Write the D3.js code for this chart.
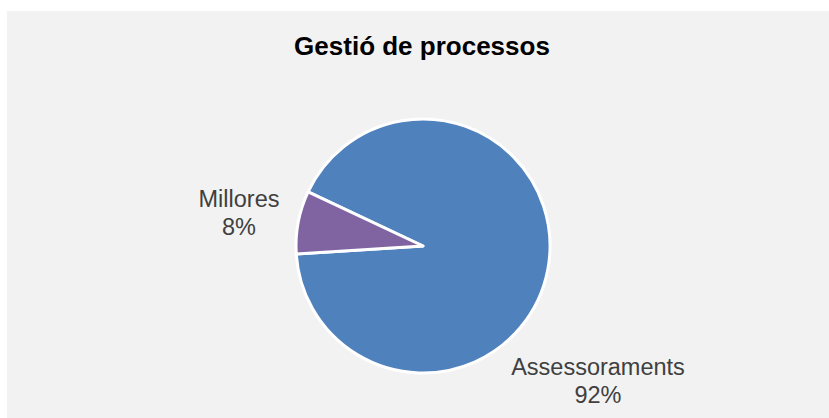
<!DOCTYPE html>
<html>
<head>
<meta charset="utf-8">
<script src="https://cdn.jsdelivr.net/npm/d3@7"></script>
<style>
body { margin: 0; background: #fff; }
text { font-family: "Liberation Sans", Arial, sans-serif; }
</style>
</head>
<body>
<script>
var width = 829,
    height = 418;

var categories = ["Assessoraments", "Millores"];
var values = [92, 8];
var colors = ["#4f81bd", "#8064a2"];
var labels = ["92%", "8%"];

var svg = d3.select("body").append("svg").attr("width", width).attr("height", height);

svg.append("rect") // chart area
    .attr("x", 7).attr("y", 11)
    .attr("width", width - 7).attr("height", height - 11)
    .attr("fill", "#f2f2f2");

svg.append("text")
    .attr("x", 422).attr("y", 55)
    .attr("text-anchor", "middle")
    .style("font-size", "26px").style("font-weight", "bold")
    .attr("fill", "#000")
    .text("Gestió de processos");

var cx = 423, cy = 246, r = 127;

var pie = d3.pie().sort(null)
    .startAngle(-64.8 * Math.PI / 180)
    .endAngle((360 - 64.8) * Math.PI / 180);
var arc = d3.arc().innerRadius(0).outerRadius(r);

var g = svg.append("g").attr("transform", "translate(" + cx + "," + cy + ")");
var arcs = pie(values);

g.selectAll("path").data(arcs).enter().append("path")
    .attr("d", arc)
    .attr("fill", (d, i) => colors[i])
    .attr("stroke", "#fff")
    .attr("stroke-width", 3)
    .attr("stroke-linejoin", "round");

// best-fit label spots, relative to the pie centre
var labelPos = [[175, 129], [-184, -39]];
var lab = svg.append("g").attr("transform", "translate(" + cx + "," + cy + ")");
arcs.forEach(function (d, i) {
    var c = labelPos[i];
    var t = lab.append("text")
        .attr("text-anchor", "middle")
        .style("font-size", "23.5px")
        .attr("fill", "#404040");
    t.append("tspan").attr("x", c[0]).attr("y", c[1]).text(categories[i]);
    t.append("tspan").attr("x", c[0]).attr("y", c[1] + 28).text(labels[i]);
});
</script>
</body>
</html>
